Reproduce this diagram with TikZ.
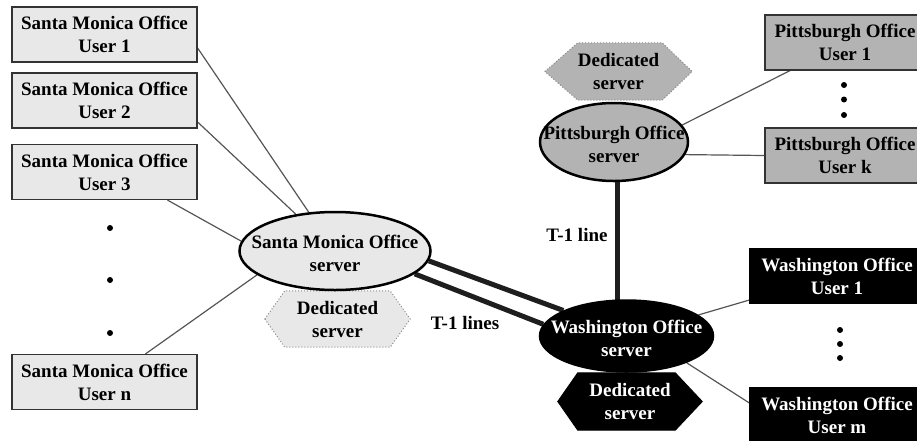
\documentclass[tikz,border=0pt]{standalone}
\usepackage{fontspec}
\setmainfont{Liberation Serif}
\usetikzlibrary{shapes.geometric,backgrounds}
\definecolor{smfill}{HTML}{E8E8E8}
\definecolor{pfill}{HTML}{B3B3B3}
\definecolor{edgegray}{HTML}{555555}
\definecolor{boxline}{HTML}{333333}
\definecolor{tline}{HTML}{1E1E1E}
\definecolor{hexline}{HTML}{8A8A8A}
\begin{document}
\begin{tikzpicture}[x=1pt,y=-1pt,
  lbl/.style={font=\bfseries\fontsize{19}{23}\selectfont, align=center, inner sep=0pt},
  userbox/.style={lbl, draw=boxline, line width=1.2pt, rectangle, minimum height=55pt},
  smbox/.style={userbox, fill=smfill, minimum width=185pt},
  pbox/.style={userbox, fill=pfill, minimum width=160pt},
  wbox/.style={userbox, fill=black, draw=black, text=white, minimum width=174pt},
  server/.style={ellipse, draw=black, line width=2.5pt, inner sep=0pt},
  hexbox/.style={lbl, rectangle, draw=none},
  link/.style={draw=edgegray, line width=1.2pt},
  trunk/.style={draw=tline, line width=5pt},
  dotmark/.style={circle, fill=black, inner sep=0pt, minimum size=6pt}
]
\useasboundingbox (0,0) rectangle (917,440);

% Santa Monica users
\node[smbox] (sm1) at (104.5,34.5) {Santa Monica Office\\User 1};
\node[smbox] (sm2) at (104.5,100.5) {Santa Monica Office\\User 2};
\node[smbox] (sm3) at (104.5,172) {Santa Monica Office\\User 3};
\node[smbox] (smn) at (104.5,382) {Santa Monica Office\\User n};
\node[dotmark] (smd1) at (110,228) {};
\node[dotmark] (smd2) at (110,280) {};
\node[dotmark] (smd3) at (110,333) {};

% Servers
\node[server, fill=smfill, minimum width=191pt, minimum height=78pt] (smserver) at (335,251) {};
\node[lbl] (smserverlbl) at (335,253) {Santa Monica Office\\server};
\node[server, fill=pfill, minimum width=148pt, minimum height=78pt] (pserver) at (614,142) {};
\node[lbl] (pserverlbl) at (614,144) {Pittsburgh Office\\server};
\node[server, fill=black, minimum width=173pt, minimum height=71pt] (wserver) at (626.5,336) {};
\node[lbl, text=white] (wserverlbl) at (626.5,338) {Washington Office\\server};

% Dedicated servers
\node[hexbox, minimum width=145pt, minimum height=56pt] (smhex) at (337.5,319) {Dedicated\\server};
\node[hexbox, minimum width=147pt, minimum height=57pt] (phex) at (618.5,71.5) {Dedicated\\server};
\node[hexbox, text=white, minimum width=144pt, minimum height=57pt] (whex) at (630,401.5) {Dedicated\\server};

% Pittsburgh users
\node[pbox] (pu1) at (845,42.5) {Pittsburgh Office\\User 1};
\node[pbox] (pk) at (845,155.5) {Pittsburgh Office\\User k};
\node[dotmark] (pd1) at (844,85) {};
\node[dotmark] (pd2) at (844,99.5) {};
\node[dotmark] (pd3) at (844,115) {};

% Washington users
\node[wbox] (wu1) at (837,276) {Washington Office\\User 1};
\node[wbox] (wm) at (837,415) {Washington Office\\User m};
\node[dotmark] (wd1) at (840,330) {};
\node[dotmark] (wd2) at (840,344) {};
\node[dotmark] (wd3) at (840,358) {};

% line labels
\node[lbl] (t1a) at (577,235) {T-1 line};
\node[lbl] (t1b) at (465,323) {T-1 lines};

\begin{pgfonlayer}{background}
  % hexagon shapes
  \path[fill=smfill, draw=hexline, dotted, line width=1pt]
    (smhex.west) -- ([xshift=20pt]smhex.north west) -- ([xshift=-20pt]smhex.north east)
    -- (smhex.east) -- ([xshift=-20pt]smhex.south east) -- ([xshift=20pt]smhex.south west) -- cycle;
  \path[fill=pfill, draw=hexline, dotted, line width=1pt]
    (phex.west) -- ([xshift=33pt]phex.north west) -- ([xshift=-30pt]phex.north east)
    -- (phex.east) -- ([xshift=-30pt]phex.south east) -- ([xshift=33pt]phex.south west) -- cycle;
  \path[fill=black, draw=black, line width=1pt]
    (whex.west) -- ([xshift=20pt]whex.north west) -- ([xshift=-27pt]whex.north east)
    -- (whex.east) -- ([xshift=-27pt]whex.south east) -- ([xshift=20pt]whex.south west) -- cycle;

  % user links
  \draw[link] ([yshift=-13.5pt]sm1.east) -- (smserver);
  \draw[link] ([yshift=-21.5pt]sm2.east) -- (smserver);
  \draw[link] ([xshift=63pt]sm3.south) -- (smserver.174);
  \draw[link] ([xshift=41pt]smn.north) -- (smserver.197);
  \draw[link] ([xshift=-55pt]pu1.south) -- (pserver.14);
  \draw[link] (pk.west) -- (pserver.-10);
  \draw[link] ([yshift=-24pt]wu1.west) -- (wserver);
  \draw[link] ([yshift=12pt]wm.west) -- (wserver.-24);

  % T-1 lines
  \draw[trunk] (smserver.-6) -- (wserver.158);
  \draw[trunk] (smserver.-16) -- (wserver.172);
  \draw[trunk] ([xshift=3pt]pserver.center) -- ([xshift=3pt]pserver.center |- wserver.center);
\end{pgfonlayer}
\end{tikzpicture}
\end{document}
